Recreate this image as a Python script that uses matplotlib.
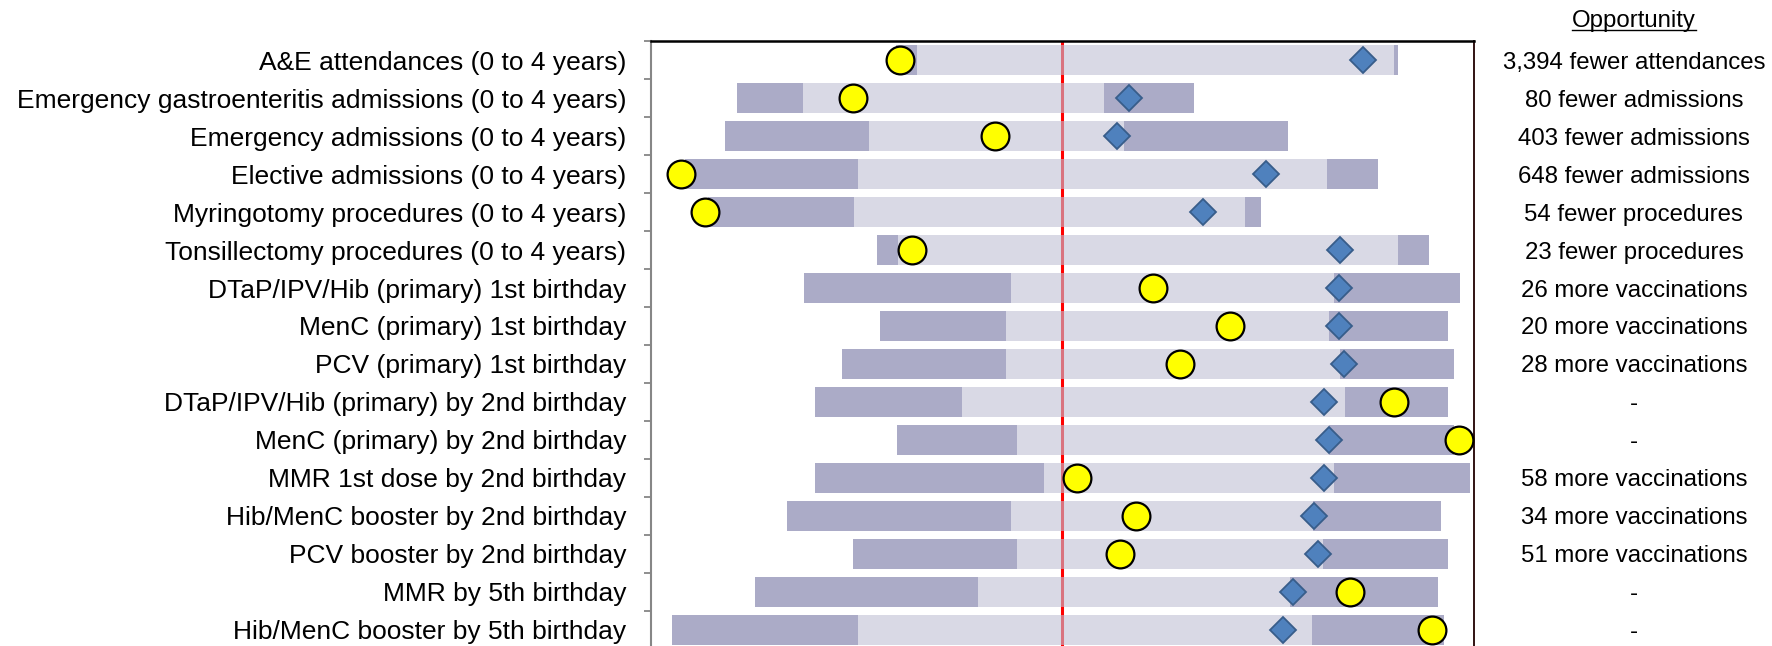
import numpy as np
import matplotlib.pyplot as plt

# spine chart: indicadores de salud infantil, posicion escalada 0-100 (media en 50)

indicators = [
    "A&E attendances (0 to 4 years)",
    "Emergency gastroenteritis admissions (0 to 4 years)",
    "Emergency admissions (0 to 4 years)",
    "Elective admissions (0 to 4 years)",
    "Myringotomy procedures (0 to 4 years)",
    "Tonsillectomy procedures (0 to 4 years)",
    "DTaP/IPV/Hib (primary) 1st birthday",
    "MenC (primary) 1st birthday",
    "PCV (primary) 1st birthday",
    "DTaP/IPV/Hib (primary) by 2nd birthday",
    "MenC (primary) by 2nd birthday",
    "MMR 1st dose by 2nd birthday",
    "Hib/MenC booster by 2nd birthday",
    "PCV booster by 2nd birthday",
    "MMR by 5th birthday",
    "Hib/MenC booster by 5th birthday",
]

worst = [29.8, 10.4, 9.0, 4.1, 6.9, 27.5, 18.6, 27.8, 23.2, 19.9, 29.9, 19.9, 16.5, 24.5, 12.6, 2.6]
q25 = [32.3, 18.5, 26.5, 25.1, 24.7, 30.0, 43.7, 43.1, 43.1, 37.8, 44.5, 47.8, 43.7, 44.5, 39.7, 25.2]
q75 = [90.3, 55.0, 57.5, 82.1, 72.2, 90.8, 83.0, 82.4, 83.7, 84.3, 82.4, 83.0, 80.4, 81.6, 77.6, 80.3]
best = [90.8, 66.0, 77.4, 88.3, 74.1, 94.5, 98.3, 96.8, 97.6, 96.8, 97.6, 99.5, 96.0, 96.8, 95.6, 96.4]
local = [30.3, 24.6, 41.8, 3.7, 6.6, 31.7, 61.0, 70.3, 64.3, 90.3, 98.2, 51.8, 58.9, 57.0, 84.9, 94.9]
comparator = [86.5, 58.1, 56.6, 74.7, 67.1, 83.7, 83.6, 83.6, 84.2, 81.8, 82.4, 81.8, 80.6, 81.1, 78.0, 76.8]

opportunity = [
    "3,394 fewer attendances",
    "80 fewer admissions",
    "403 fewer admissions",
    "648 fewer admissions",
    "54 fewer procedures",
    "23 fewer procedures",
    "26 more vaccinations",
    "20 more vaccinations",
    "28 more vaccinations",
    "-",
    "-",
    "58 more vaccinations",
    "34 more vaccinations",
    "51 more vaccinations",
    "-",
    "-",
]

plt.rcParams['font.family'] = ['Liberation Sans', 'DejaVu Sans']

fig = plt.figure(figsize=(17.72, 6.46), dpi=100)
ax = fig.add_axes([0.3674, -0.0046, 0.4644, 0.9411])

n = len(indicators)
y = np.arange(n) + 0.5
worst = np.array(worst)
q25 = np.array(q25)
q75 = np.array(q75)
best = np.array(best)

dark = '#7373A3'
light = '#C1C1D5'
h = 0.77

ax.axvline(50, color='red', lw=2.2, zorder=1)
ax.barh(y, q25 - worst, left=worst, height=h, color=dark, alpha=0.6, lw=0, zorder=2)
ax.barh(y, q75 - q25, left=q25, height=h, color=light, alpha=0.6, lw=0, zorder=2)
ax.barh(y, best - q75, left=q75, height=h, color=dark, alpha=0.6, lw=0, zorder=2)

ax.plot(comparator, y, ls='none', marker='D', ms=13, mfc='#4F81BD', mec='#385D8A', mew=1.3, zorder=3)
ax.plot(local, y, ls='none', marker='o', ms=20, mfc='#FFFF00', mec='black', mew=1.6, zorder=4, clip_on=False)

ax.set_xlim(0, 100)
ax.set_ylim(n, 0)

# marcas en los limites de fila, etiquetas en el centro
ax.set_yticks(np.arange(n + 1))
ax.set_yticklabels([])
ax.tick_params(axis='y', which='major', length=5, width=1.3, color='#868686', direction='out')
ax.set_yticks(y, minor=True)
ax.set_yticklabels(indicators, minor=True, fontsize=19, color='black')
ax.tick_params(axis='y', which='minor', length=0, pad=18)
ax.set_xticks([])

ax.spines['left'].set_color('#868686')
ax.spines['left'].set_linewidth(1.5)
ax.spines['top'].set_color('black')
ax.spines['top'].set_linewidth(1.8)
ax.spines['right'].set_color('#200000')
ax.spines['right'].set_linewidth(1.3)
ax.spines['bottom'].set_visible(False)

trans = ax.get_yaxis_transform()
for yi, txt in zip(y, opportunity):
    ax.text(1.1944, yi, txt, transform=trans, ha='center', va='center_baseline', fontsize=17.3, clip_on=False)

head = fig.text(1634 / 1772, 1 - 21 / 646, "Opportunity", ha='center', va='center', fontsize=17.3)
fig.canvas.draw()
bb = head.get_window_extent()
fig.add_artist(plt.Line2D([bb.x0 / 1772, bb.x1 / 1772], [(bb.y0 + 2) / 646] * 2, color='black', lw=1))

fig.savefig('out.png', dpi=100)
